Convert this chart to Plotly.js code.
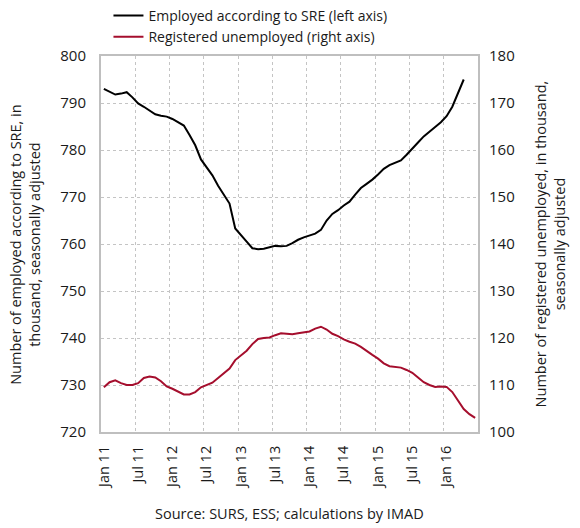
<!DOCTYPE html>
<html>
<head>
<meta charset="utf-8">
<script src="https://cdn.plot.ly/plotly-3.0.1.min.js"></script>
<style>
  html, body { margin: 0; padding: 0; background: #fff; }
  #chart { width: 580px; height: 528px; }
</style>
</head>
<body>
<div id="chart"></div>
<script>
// monthly, Jan 2011 onwards
const tickLabels = ["Jan 11", "Jul 11", "Jan 12", "Jul 12", "Jan 13", "Jul 13",
                    "Jan 14", "Jul 14", "Jan 15", "Jul 15", "Jan 16"];

// employed according to SRE (thousand), Jan 11 - Apr 16
const employed = [
  793.0, 792.4, 791.8, 792.0, 792.3, 791.2, 789.9, 789.2, 788.4, 787.6, 787.3, 787.1,
  786.6, 785.9, 785.2, 783.2, 781.0, 778.0, 776.2, 774.6, 772.4, 770.5, 768.6, 763.3,
  761.8, 760.5, 759.1, 758.9, 759.0, 759.3, 759.6, 759.5, 759.6, 760.2, 760.9, 761.4,
  761.8, 762.2, 763.0, 765.0, 766.4, 767.2, 768.2, 769.0, 770.5, 771.9, 772.8, 773.7,
  774.8, 776.0, 776.8, 777.3, 777.8, 779.0, 780.2, 781.6, 782.9, 784.0, 784.9, 785.9,
  787.2, 789.2, 792.3, 795.0
];

// registered unemployed (thousand), Jan 11 - Jun 16
const unemployed = [
  109.5, 110.6, 111.0, 110.4, 110.0, 110.0, 110.4, 111.5, 111.8, 111.6, 110.8, 109.7,
  109.2, 108.6, 108.0, 108.0, 108.5, 109.5, 110.0, 110.5, 111.5, 112.5, 113.5, 115.3,
  116.4, 117.3, 118.7, 119.8, 120.0, 120.1, 120.6, 121.0, 120.9, 120.8, 121.0, 121.2,
  121.4, 122.0, 122.4, 121.8, 120.9, 120.4, 119.7, 119.2, 118.8, 118.1, 117.2, 116.4,
  115.6, 114.6, 114.0, 113.9, 113.7, 113.2, 112.6, 111.6, 110.6, 110.0, 109.6, 109.7,
  109.6, 108.5, 106.8, 104.9, 103.8, 103.0
];

const nMonths = unemployed.length;
const tickVals = tickLabels.map((_, k) => k * 6);

const fontFam = "'Open Sans', 'Liberation Sans', sans-serif";
const gridCol = "#c4c4c4";
const txtCol = "#1a1a1a";

const traces = [
  {
    x: employed.map((_, i) => i), y: employed,
    type: 'scatter', mode: 'lines',
    name: 'Employed according to SRE (left axis)',
    line: { color: '#000000', width: 2 }
  },
  {
    x: unemployed.map((_, i) => i), y: unemployed,
    type: 'scatter', mode: 'lines', yaxis: 'y2',
    name: 'Registered unemployed (right axis)',
    line: { color: '#a50e2d', width: 2 }
  }
];

const layout = {
  width: 580, height: 528,
  margin: { l: 101, r: 102, t: 56, b: 96, autoexpand: false },
  paper_bgcolor: '#fff', plot_bgcolor: '#fff',
  font: { family: fontFam, size: 14, color: txtCol },
  showlegend: true,
  legend: {
    xref: 'container', yref: 'container',
    x: 0.187, y: 1.0, xanchor: 'left', yanchor: 'top',
    font: { size: 14, color: txtCol },
    bgcolor: 'rgba(0,0,0,0)', tracegroupgap: 0, itemwidth: 30
  },
  xaxis: {
    automargin: false,
    range: [-0.5, nMonths - 0.5],
    tickmode: 'array', tickvals: tickVals, ticktext: tickLabels,
    tickangle: -90, showgrid: false, zeroline: false,
    ticks: '', ticklabelstandoff: 6, tickfont: { size: 14.5 },
    showline: true, linecolor: '#bfbfbf', linewidth: 2, mirror: true,
    minor: { tick0: -0.5, dtick: 6, showgrid: true, gridcolor: gridCol, griddash: 'dot', gridwidth: 1, ticks: '' }
  },
  yaxis: {
    automargin: false,
    range: [720, 800], dtick: 10, tick0: 720,
    showgrid: true, gridcolor: gridCol, griddash: 'dot', gridwidth: 1,
    zeroline: false, ticks: '', ticklabelstandoff: 10, tickfont: { size: 15 },
    showline: true, linecolor: '#bfbfbf', linewidth: 2, mirror: true
  },
  yaxis2: {
    automargin: false,
    range: [100, 180], dtick: 10, tick0: 100,
    overlaying: 'y', side: 'right',
    showgrid: false, zeroline: false, ticks: '', ticklabelstandoff: 10, tickfont: { size: 15 }
  },
  annotations: [
    {
      xref: 'paper', yref: 'paper', x: -0.202, y: 0.5, xanchor: 'center', yanchor: 'middle',
      textangle: -90, showarrow: false,
      text: 'Number of employed according to SRE, in<br>thousand, seasonally adjusted',
      font: { size: 14.5, color: txtCol }
    },
    {
      xref: 'paper', yref: 'paper', x: 1.192, y: 0.5, xanchor: 'center', yanchor: 'middle',
      textangle: -90, showarrow: false,
      text: 'Number of registered unemployed, in thousand,<br>seasonally adjusted',
      font: { size: 14.5, color: txtCol }
    },
    {
      xref: 'paper', yref: 'paper', x: 0.5, y: -0.186, xanchor: 'center', yanchor: 'top',
      text: 'Source: SURS, ESS; calculations by IMAD', showarrow: false,
      font: { size: 14.5, color: txtCol }
    }
  ]
};

Plotly.newPlot('chart', traces, layout, { staticPlot: true });
</script>
</body>
</html>
